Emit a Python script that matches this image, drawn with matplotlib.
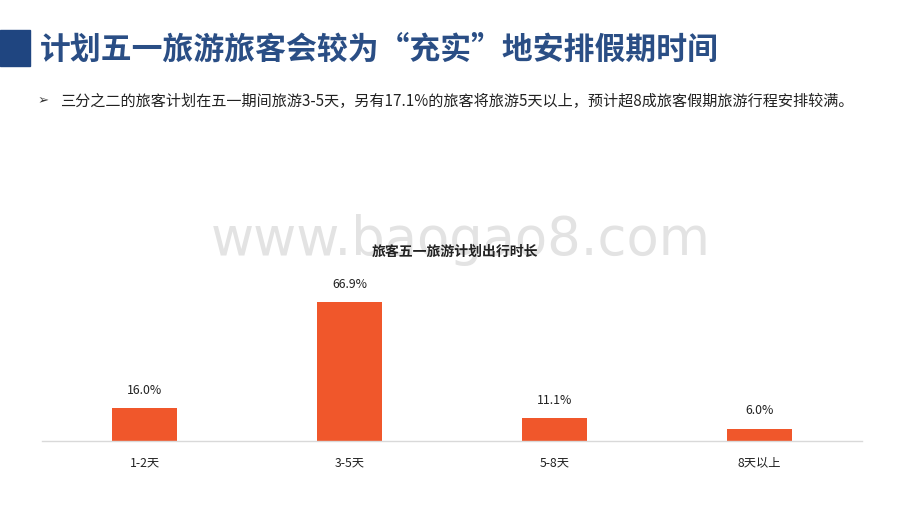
import matplotlib
matplotlib.use('Agg')
import matplotlib.pyplot as plt
from matplotlib.patches import Rectangle

plt.rcParams['font.family'] = ['Noto Sans CJK SC', 'DejaVu Sans']

# data
categories = ['1-2天', '3-5天', '5-8天', '8天以上']
shares = [16.0, 66.9, 11.1, 6.0]

page_title = '计划五一旅游旅客会较为“充实”地安排假期时间'
bullet_text = '三分之二的旅客计划在五一期间旅游3-5天，另有17.1%的旅客将旅游5天以上，预计超8成旅客假期旅游行程安排较满。'
chart_title = '旅客五一旅游计划出行时长'

blue = '#2A4E85'
orange = '#F0572B'

fig = plt.figure(figsize=(9.2, 5.18), dpi=100)

# header block and title
fig.patches.append(Rectangle((0, 1 - 66 / 518), 30 / 920, 36 / 518,
                             transform=fig.transFigure, color='#1F4580'))
fig.text(40 / 920, 1 - 50 / 518, page_title, fontsize=22.2, fontweight='bold',
         color=blue, va='center', ha='left')

# bullet line
fig.text(38 / 920, 1 - 101 / 518, '➢', fontsize=9.5, color='#333333',
         va='center', ha='left', family=['DejaVu Sans'])
fig.text(60 / 920, 1 - 101 / 518, bullet_text, fontsize=10.9, color='#222222',
         va='center', ha='left')

# watermark
fig.text(461 / 920, 1 - 240 / 518, 'www.baogao8.com', fontsize=38,
         color='#E3E3E3', va='center', ha='center', family=['DejaVu Sans'])

# chart title
fig.text(455 / 920, 1 - 252 / 518, chart_title, fontsize=10, fontweight='bold',
         color='#222222', va='center', ha='center')

ax = fig.add_axes([42 / 920, 77 / 518, 820 / 920, 166 / 518])
ax.set_facecolor('none')
x = range(len(categories))
bars = ax.bar(x, shares, width=0.315, color=orange)
for b, v in zip(bars, shares):
    ax.annotate(f'{v:.1f}%', (b.get_x() + b.get_width() / 2, v),
                xytext=(0, 8), textcoords='offset points',
                ha='center', va='bottom', fontsize=8.8, color='#222222')

ax.set_xlim(-0.5, len(categories) - 0.5)
ax.set_ylim(0, 80)
ax.set_xticks(list(x))
ax.set_xticklabels(categories, fontsize=8.8, color='#222222')
ax.tick_params(axis='x', length=0, pad=11)
ax.set_yticks([])
for side in ['top', 'right', 'left']:
    ax.spines[side].set_visible(False)
ax.spines['bottom'].set_color('#D9D9D9')
ax.spines['bottom'].set_linewidth(1)

fig.savefig('out.png', dpi=100)
